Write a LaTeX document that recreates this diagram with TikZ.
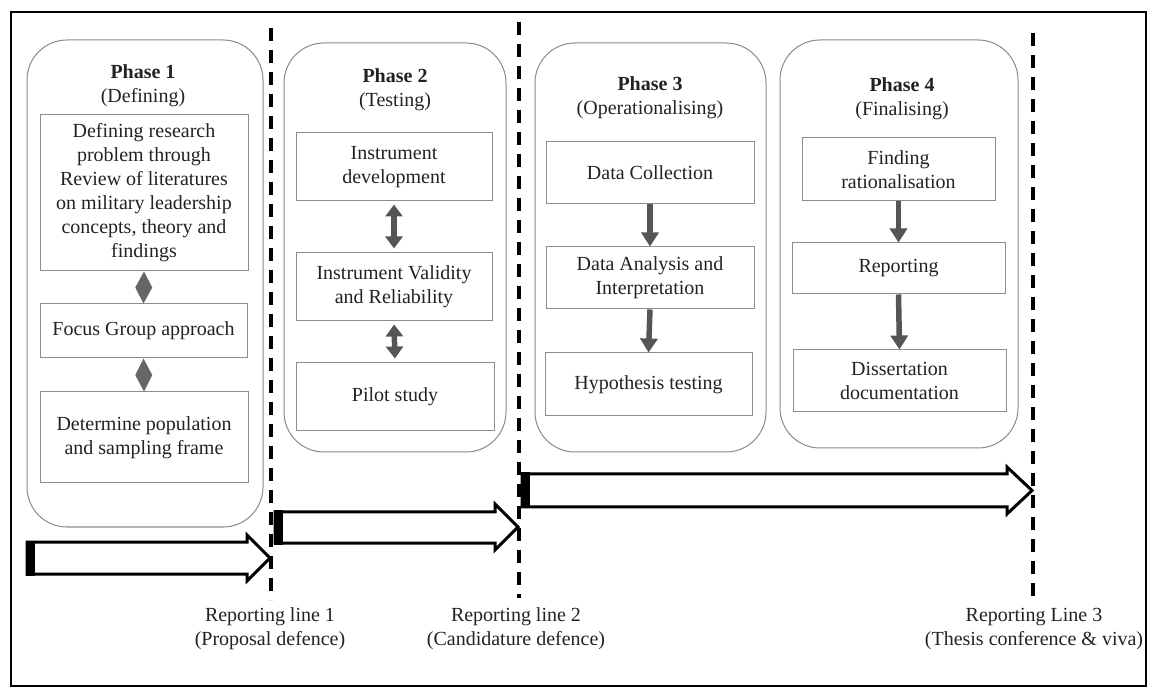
\documentclass[tikz,border=0pt]{standalone}
\usepackage{fontspec}
\setmainfont{Liberation Serif}
\usetikzlibrary{arrows.meta,calc}
\definecolor{txt}{HTML}{222222}
\definecolor{pgray}{HTML}{8A8A8A}
\definecolor{bgray}{HTML}{8C8C8C}
\definecolor{agray}{HTML}{555555}
\definecolor{dgray}{HTML}{666666}
\begin{document}
\begin{tikzpicture}[x=1pt,y=-1pt,
  every node/.style={font=\fontsize{20}{24}\selectfont, text=txt},
  phasebox/.style={draw=pgray, line width=1pt, rounded corners=40pt, inner sep=0pt},
  ibox/.style={draw=bgray, line width=1pt, align=center, inner sep=0pt},
  ttl/.style={align=center, inner sep=0pt},
  lbl/.style={align=center, inner sep=0pt},
  darrow/.style={draw=agray, line width=5.5pt, -{Triangle[width=17pt,length=14pt]}},
  dblarrow/.style={draw=agray, line width=5.5pt, {Triangle[width=17pt,length=12pt]}-{Triangle[width=17pt,length=12pt]}, shorten <=3pt, shorten >=4pt},
  diam/.style={fill=dgray},
  repline/.style={draw=black, line width=4pt, dash pattern=on 13pt off 9pt},
  blockarrow/.style={draw=black, fill=white, line width=3pt, line join=miter},
  blockbar/.style={fill=black}
]
\useasboundingbox (0,0) rectangle (1152,692);
% outer frame
\draw[line width=1.5pt] (11,12) rectangle (1146,686);

% phase containers
\node[phasebox, minimum width=236pt, minimum height=487pt] (ph1) at (145,283.5) {};
\node[phasebox, minimum width=222pt, minimum height=409pt] (ph2) at (395,247.5) {};
\node[phasebox, minimum width=231pt, minimum height=409pt] (ph3) at (650.5,247.5) {};
\node[phasebox, minimum width=238pt, minimum height=408pt] (ph4) at (899,244) {};

% titles
\node[ttl] (t1) at (143,86) {\textbf{Phase 1}\\(Defining)};
\node[ttl] (t2) at (395,90) {\textbf{Phase 2}\\(Testing)};
\node[ttl] (t3) at (650,98) {\textbf{Phase 3}\\(Operationalising)};
\node[ttl] (t4) at (902,99) {\textbf{Phase 4}\\(Finalising)};

% Phase 1 boxes
\node[ibox, minimum width=208pt, minimum height=156pt] (p1a) at (144,193)
  {Defining research\\problem through\\Review of literatures\\on military leadership\\concepts, theory and\\findings};
\node[ibox, minimum width=207pt, minimum height=54pt] (p1b) at (143.5,331) {Focus Group approach};
\node[ibox, minimum width=208pt, minimum height=91pt] (p1c) at (144,437.5) {Determine population\\and sampling frame};

% Phase 2 boxes
\node[ibox, minimum width=196pt, minimum height=68pt] (p2a) at (394,167) {Instrument\\development};
\node[ibox, minimum width=196pt, minimum height=68pt] (p2b) at (394,287) {Instrument Validity\\and Reliability};
\node[ibox, minimum width=198pt, minimum height=68pt] (p2c) at (395,397) {Pilot study};

% Phase 3 boxes
\node[ibox, minimum width=208pt, minimum height=62pt] (p3a) at (650,173) {Data Collection};
\node[ibox, minimum width=208pt, minimum height=62pt] (p3b) at (650,278) {Data Analysis and\\Interpretation};
\node[ibox, minimum width=207pt, minimum height=63pt] (p3c) at (648.5,384.5) {Hypothesis testing};

% Phase 4 boxes
\node[ibox, minimum width=193pt, minimum height=63pt] (p4a) at (898.5,169.5) {Finding\\rationalisation};
\node[ibox, minimum width=213pt, minimum height=51pt] (p4b) at (898.5,268.5) {Reporting};
\node[ibox, minimum width=213pt, minimum height=62pt] (p4c) at (899.5,381) {Dissertation\\documentation};

% Phase 1 diamonds
\fill[diam] (p1a.south) -- ($(p1a.south)!.5!(p1b.north)+(8.5,0)$) -- (p1b.north) -- ($(p1a.south)!.5!(p1b.north)+(-8.5,0)$) -- cycle;
\fill[diam] (p1b.south) -- ($(p1b.south)!.5!(p1c.north)+(8.5,0)$) -- (p1c.north) -- ($(p1b.south)!.5!(p1c.north)+(-8.5,0)$) -- cycle;

% Phase 2 double arrows
\draw[dblarrow] (p2a.south) -- (p2b.north);
\draw[dblarrow] (p2b.south) -- (p2c.north);

% Phase 3 arrows
\draw[darrow] (p3a.south) -- (p3b.north);
\draw[darrow] (p3b.south) -- (p3c.north);

% Phase 4 arrows
\draw[darrow] (p4a.south) -- (p4b.north);
\draw[darrow] (p4b.south) -- (p4c.north);

% reporting lines
\coordinate (r1t) at (271,28);  \coordinate (r1b) at (271,600);
\coordinate (r2t) at (519,22);  \coordinate (r2b) at (519,598);
\coordinate (r3t) at (1033,33); \coordinate (r3b) at (1033,600);
\draw[repline] (r1t) -- (r1b);
\draw[repline] (r2t) -- (r2b);
\draw[repline] (r3t) -- (r3b);

% timeline block arrows
\draw[blockarrow] (27,542) -- (247,542) -- (247,535) -- (270,558) -- (247,581) -- (247,574) -- (27,574) -- cycle;
\fill[blockbar] (26,540.5) rectangle (35,575.5);
\draw[blockarrow] (275,512) -- (495,512) -- (495,504) -- (518,527) -- (495,550) -- (495,543) -- (275,543) -- cycle;
\fill[blockbar] (274,510.5) rectangle (283,544.5);
\draw[blockarrow] (522,474) -- (1007,474) -- (1007,467) -- (1032,490.5) -- (1007,514) -- (1007,507) -- (522,507) -- cycle;
\fill[blockbar] (521,472.5) rectangle (530,508.5);

% labels
\node[lbl] (l1) at (270,629) {Reporting line 1\\(Proposal defence)};
\node[lbl] (l2) at (516,629) {Reporting line 2\\(Candidature defence)};
\node[lbl] (l3) at (1034,629) {Reporting Line 3\\(Thesis conference \& viva)};
\end{tikzpicture}
\end{document}
